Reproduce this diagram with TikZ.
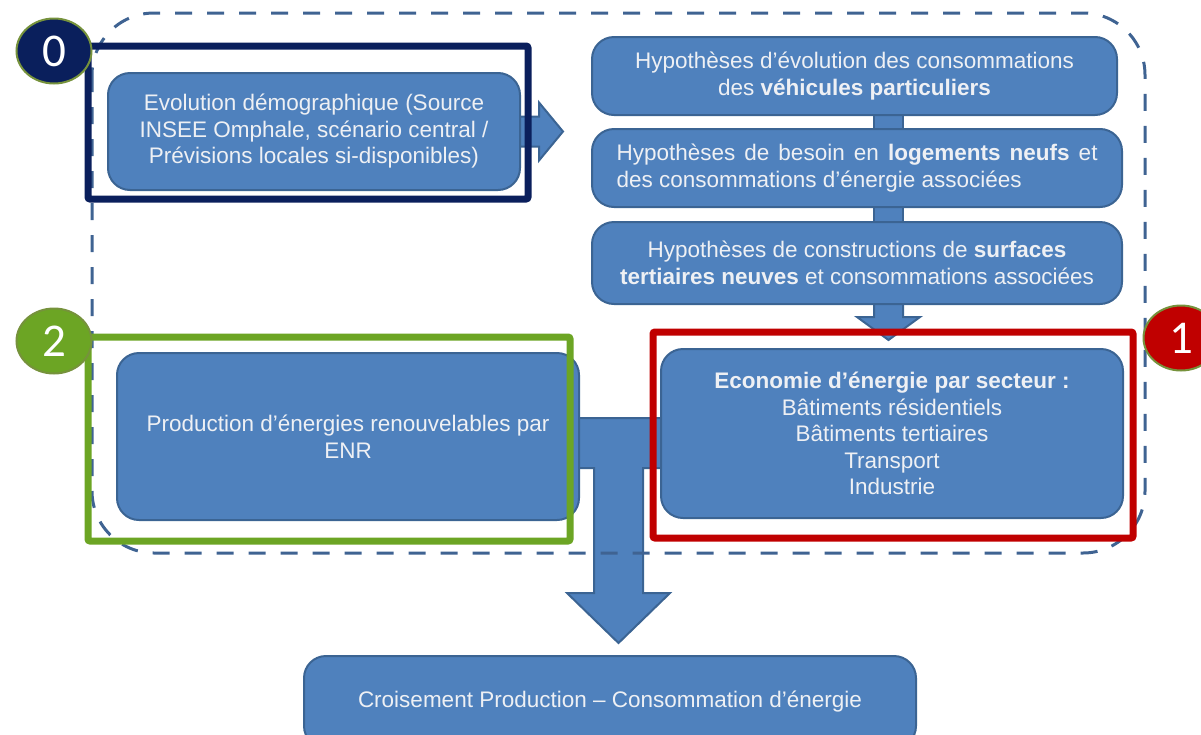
\documentclass[tikz,border=0pt]{standalone}
\usepackage{fontspec}
\setmainfont{Liberation Sans}
\newfontfamily\digitfont{Carlito}
\usetikzlibrary{positioning,calc,shapes.geometric,backgrounds}
\definecolor{boxfill}{HTML}{4F81BD}
\definecolor{boxline}{HTML}{3B6493}
\definecolor{boxtext}{HTML}{EEF0F4}
\definecolor{groupblue}{HTML}{3F6392}
\definecolor{navyframe}{HTML}{0A1F5C}
\definecolor{redframe}{HTML}{C00000}
\definecolor{greenframe}{HTML}{6CA524}
\definecolor{badgeline}{HTML}{76923C}

\begin{document}
\begin{tikzpicture}
		[x=1pt,y=-1pt,
		stepbox/.style={rectangle,rounded corners=22pt,draw=boxline,fill=boxfill,line width=2pt,text=boxtext,align=center,inner sep=0pt,font=\fontsize{22.5}{26.5}\selectfont},
		blockarrow/.style={draw=boxline,fill=boxfill,line width=2pt,line join=miter},
		groupline/.style={draw=groupblue,line width=3pt,dash pattern=on 17pt off 15pt,rounded corners=62pt},
		frameline/.style={line width=7pt,rounded corners=2pt},
		badge/.style={ellipse,draw=badgeline,line width=2pt,minimum width=75pt,minimum height=65pt,inner sep=0pt,text=white,font=\digitfont\fontsize{47}{47}\selectfont}]
		\useasboundingbox (0,0) rectangle (1201,734);
		\clip (0,0) rectangle (1201,734);

		\node [stepbox,minimum width=412pt,minimum height=117pt] (demo) at (314,131.5) {Evolution démographique (Source\\INSEE Omphale, scénario central /\\Prévisions locales si-disponibles)};

		\node [stepbox,minimum width=525pt,minimum height=78pt] (vehic) at (854.5,76) {Hypothèses d'évolution des consommations\\des \textbf{véhicules particuliers}};
		\node [stepbox,minimum width=530pt,minimum height=78pt,below=12pt of vehic.south west,anchor=north west,align=justify,text width=481pt] (logem) {Hypothèses de besoin en \textbf{logements neufs} et des consommations d'énergie associées};
		\node [stepbox,minimum width=530pt,minimum height=82pt,below=13pt of logem.south west,anchor=north west] (surf) {Hypothèses de constructions de \textbf{surfaces}\\\textbf{tertiaires neuves} et consommations associées};

		\node [stepbox,minimum width=462pt,minimum height=169pt] (econ) at (892,433.5) {\textbf{Economie d'énergie par secteur :}\\Bâtiments résidentiels\\Bâtiments tertiaires\\Transport\\Industrie};
		\node [stepbox,minimum width=462pt,minimum height=167pt] (prod) at (348,436.5) {Production d'énergies renouvelables par\\ENR};
		\node [stepbox,minimum width=612pt,minimum height=92pt] (cross) at (610,702) {Croisement Production – Consommation d'énergie};

		\coordinate (spine) at (888.5,0);
		\coordinate (join) at (618.5,443);

		\begin{scope}[on background layer]
			\draw [blockarrow] ($(demo.east)+(-4,-15)$) -- ++(22,0) -- ++(0,-14) -- ++(24,29) -- ++(-24,29) -- ++(0,-14) -- ++(-22,0) -- cycle;
			\draw [blockarrow] ($(vehic.south -| spine)+(-14.5,-4)$) rectangle ($(logem.north -| spine)+(14.5,4)$);
			\draw [blockarrow] ($(logem.south -| spine)+(-14.5,-4)$) rectangle ($(surf.north -| spine)+(14.5,4)$);
			\draw [blockarrow] ($(surf.south -| spine)+(-14.5,-4)$) -- ++(0,16) -- ++(-17,0) -- ++(31.5,23) -- ++(31.5,-23) -- ++(-17,0) -- ++(0,-16) -- cycle;
			\draw [blockarrow] ($(join)+(-48.5,-25)$) -- ++(100,0) -- ++(0,50) -- ++(-27,0) -- ++(0,125) -- ++(27,0) -- ++(-51.5,50) -- ++(-51.5,-50) -- ++(27,0) -- ++(0,-125) -- ++(-24,0) -- cycle;
		\end{scope}

		\draw [groupline] (92,13) rectangle (1145,553);

		\draw [frameline,navyframe] ($(demo.north west)+(-19,-26)$) rectangle ($(demo.south east)+(7,8)$);
		\draw [frameline,redframe] ($(econ.north west)+(-7,-16)$) rectangle ($(econ.south east)+(9,19)$);
		\draw [frameline,greenframe] ($(prod.north west)+(-28,-15)$) rectangle ($(prod.south east)+(-10,20)$);

		\node [badge,fill=navyframe] (n0) at (54,51) {0};
		\node [badge,fill=redframe] (n1) at (1181,338) {1};
		\node [badge,fill=greenframe] (n2) at (54,341) {2};

	\end{tikzpicture}
\end{document}
